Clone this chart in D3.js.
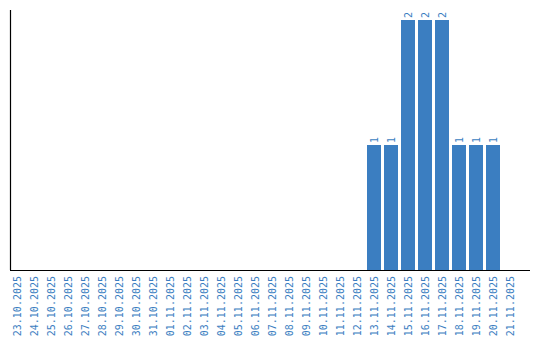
<!DOCTYPE html>
<html>
<head>
<meta charset="utf-8">
<script src="https://cdn.jsdelivr.net/npm/d3@7"></script>
<style>
  body { margin: 0; background: #fff; }
  svg { display: block; }
</style>
</head>
<body>
<svg id="chart" width="540" height="340"></svg>
<script>
(function(){
'use strict';

var dates = [
    '23.10.2025', '24.10.2025', '25.10.2025', '26.10.2025', '27.10.2025',
    '28.10.2025', '29.10.2025', '30.10.2025', '31.10.2025', '01.11.2025',
    '02.11.2025', '03.11.2025', '04.11.2025', '05.11.2025', '06.11.2025',
    '07.11.2025', '08.11.2025', '09.11.2025', '10.11.2025', '11.11.2025',
    '12.11.2025', '13.11.2025', '14.11.2025', '15.11.2025', '16.11.2025',
    '17.11.2025', '18.11.2025', '19.11.2025', '20.11.2025', '21.11.2025'
];
var counts = [
    0, 0, 0, 0, 0, 0, 0, 0, 0, 0,
    0, 0, 0, 0, 0, 0, 0, 0, 0, 0,
    0, 1, 1, 2, 2, 2, 1, 1, 1, 0
];

var barColor = '#3b7ec1';
var labelFont = 'DejaVu Sans Mono, Liberation Mono, monospace';
var left = 10, top = 10, bottom = 270, right = 530;

var svg = d3.select('#chart');

var step = 17, inner = 3 / 17;
var x = d3.scaleBand()
    .domain(dates)
    .range([left, left + step * (dates.length - inner)])
    .paddingInner(inner)
    .paddingOuter(0);

var maxVal = d3.max(counts);
var y = d3.scaleLinear()
    .domain([0, maxVal * 1.04])
    .range([bottom, top]);

var data = dates.map(function(d, i){ return {date: d, value: counts[i]}; });
var nonZero = data.filter(function(d){ return d.value > 0; });

// bars
svg.append('g')
  .selectAll('rect')
  .data(nonZero)
  .join('rect')
    .attr('x', function(d){ return x(d.date); })
    .attr('y', function(d){ return y(d.value); })
    .attr('width', x.bandwidth())
    .attr('height', function(d){ return y(0) - y(d.value); })
    .attr('fill', barColor);

// value labels, rotated above bars
svg.append('g')
  .selectAll('text')
  .data(nonZero)
  .join('text')
    .attr('transform', function(d){
        var cx = x(d.date) + x.bandwidth() / 2;
        return 'translate(' + cx + ',' + (y(d.value) - 2) + ') rotate(-90)';
    })
    .attr('dy', '0.35em')
    .attr('text-anchor', 'start')
    .attr('font-family', labelFont)
    .attr('font-size', '10px')
    .attr('fill', barColor)
    .text(function(d){ return d.value; });

// x axis
var xAxis = svg.append('g')
    .attr('transform', 'translate(0,' + bottom + ')')
    .call(d3.axisBottom(x).tickSize(0).tickPadding(0));
xAxis.select('.domain').remove();
xAxis.selectAll('text')
    .attr('transform', 'translate(0,6) rotate(-90)')
    .attr('x', 0)
    .attr('y', 0)
    .attr('dy', '0.35em')
    .attr('text-anchor', 'end')
    .attr('font-family', labelFont)
    .attr('font-size', '10px')
    .attr('fill', barColor);

// axis lines
svg.append('line')
    .attr('x1', left).attr('x2', right)
    .attr('y1', bottom + 0.5).attr('y2', bottom + 0.5)
    .attr('stroke', '#000').attr('stroke-width', 1.2);
svg.append('line')
    .attr('x1', left + 0.5).attr('x2', left + 0.5)
    .attr('y1', top).attr('y2', bottom)
    .attr('stroke', '#000').attr('stroke-width', 1.2);

})();
</script>
</body>
</html>
